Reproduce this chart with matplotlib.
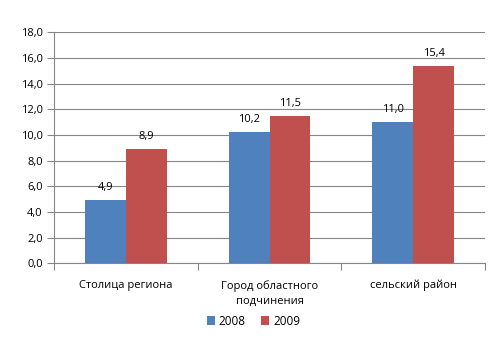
import matplotlib
matplotlib.use("Agg")
import matplotlib.pyplot as plt
import numpy as np

categories = ["Столица региона", "Город областного\nподчинения", "сельский район"]
series_names = ["2008", "2009"]
values_2008 = [4.9, 10.2, 11.0]
values_2009 = [8.9, 11.5, 15.4]
colors = ["#4F81BD", "#C0504D"]
yticks = np.arange(0, 18.1, 2)

plt.rcParams["font.family"] = ["Open Sans", "DejaVu Sans"]
fs = 8
axis_gray = "#868686"

fig = plt.figure(figsize=(4.97, 3.40), dpi=100)
ax = fig.add_axes([0.1087, 0.2256, 0.8672, 0.6794])

x = np.arange(len(categories))
w = 0.285
for i, (vals, name, col) in enumerate(zip([values_2008, values_2009], series_names, colors)):
    pos = x + (i - 0.5) * w
    ax.bar(pos, vals, width=w, color=col, label=name, zorder=3)
    for xb, v in zip(pos, vals):
        ax.annotate(f"{v:.1f}".replace(".", ","), (xb, v), xytext=(0, 5),
                    textcoords="offset points", ha="center", va="bottom",
                    fontsize=fs, color="#000000")

ax.set_xlim(-0.5, len(categories) - 0.5)
ax.set_ylim(0, 18)
ax.set_yticks(yticks)
ax.set_yticklabels([f"{t:.1f}".replace(".", ",") for t in yticks], fontsize=fs)
ax.yaxis.grid(True, color=axis_gray, linewidth=0.8, zorder=0)
ax.set_axisbelow(True)

# category labels centred, ticks on category boundaries
ax.set_xticks(x)
ax.set_xticklabels(categories, fontsize=fs, linespacing=1.55)
ax.tick_params(axis="x", length=0, pad=12)
ax.set_xticks(np.arange(-0.5, len(categories)), minor=True)
ax.tick_params(axis="x", which="minor", length=5, color=axis_gray, width=0.8)
ax.tick_params(axis="y", length=5, color=axis_gray, width=0.8, pad=3)

for s in ["top", "right"]:
    ax.spines[s].set_visible(False)
for s in ["left", "bottom"]:
    ax.spines[s].set_color(axis_gray)
    ax.spines[s].set_linewidth(0.8)

fig.legend(loc="lower center", bbox_to_anchor=(0.51, 0.005), ncol=2, frameon=False,
           fontsize=8.5, handlelength=0.7, handleheight=0.7, handletextpad=0.3,
           columnspacing=1.3)

fig.savefig("out.png", dpi=100)
